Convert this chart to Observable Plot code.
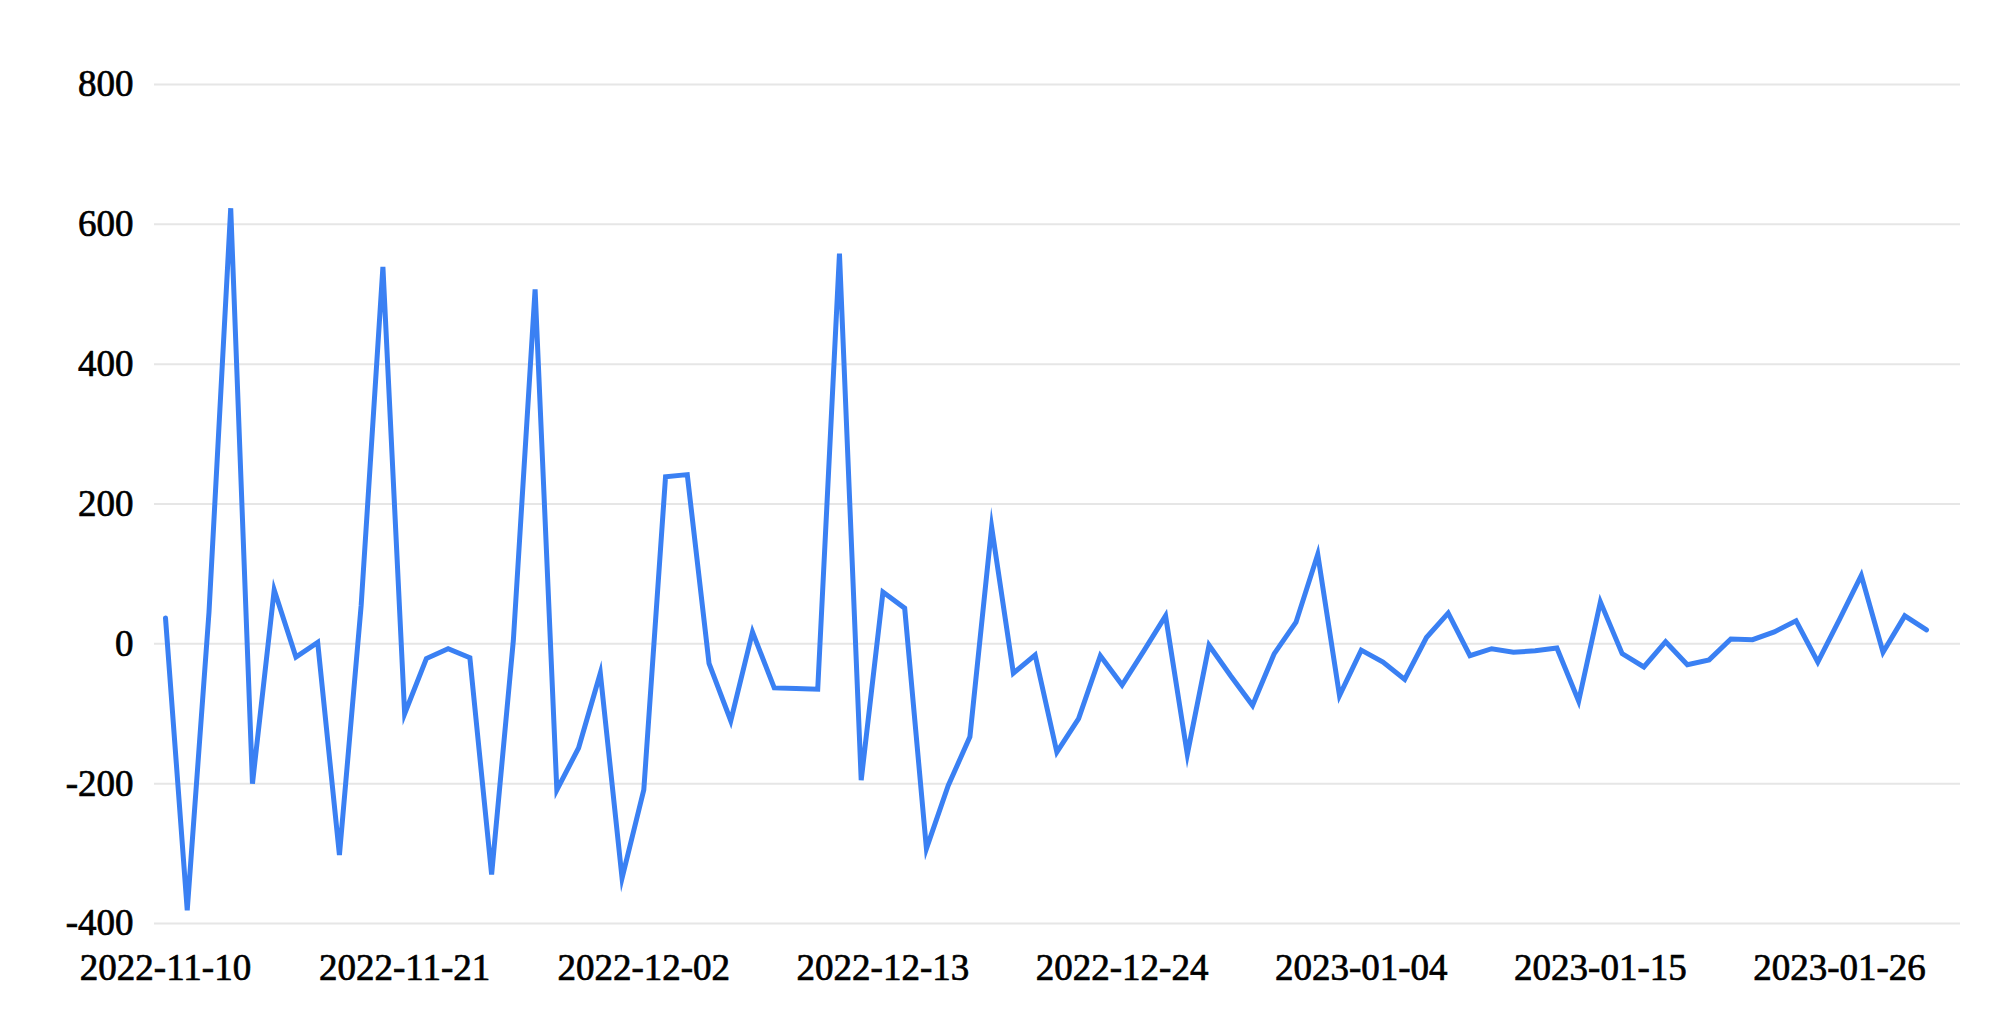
<!DOCTYPE html>
<html>
<head>
<meta charset="utf-8">
<script src="https://cdn.jsdelivr.net/npm/d3@7"></script>
<script src="https://cdn.jsdelivr.net/npm/@observablehq/plot@0.6"></script>
<style>
  html, body { margin: 0; padding: 0; background: #fff; overflow: hidden; }
  #chart svg { display: block; }
  #chart svg text { stroke: #000; stroke-width: 0.7px; }
</style>
</head>
<body>
<div id="chart"></div>
<script>
const dates = [
  "2022-11-10","2022-11-11","2022-11-12","2022-11-13","2022-11-14","2022-11-15","2022-11-16","2022-11-17","2022-11-18","2022-11-19",
  "2022-11-20","2022-11-21","2022-11-22","2022-11-23","2022-11-24","2022-11-25","2022-11-26","2022-11-27","2022-11-28","2022-11-29",
  "2022-11-30","2022-12-01","2022-12-02","2022-12-03","2022-12-04","2022-12-05","2022-12-06","2022-12-07","2022-12-08","2022-12-09",
  "2022-12-10","2022-12-11","2022-12-12","2022-12-13","2022-12-14","2022-12-15","2022-12-16","2022-12-17","2022-12-18","2022-12-19",
  "2022-12-20","2022-12-21","2022-12-22","2022-12-23","2022-12-24","2022-12-25","2022-12-26","2022-12-27","2022-12-28","2022-12-29",
  "2022-12-30","2022-12-31","2023-01-01","2023-01-02","2023-01-03","2023-01-04","2023-01-05","2023-01-06","2023-01-07","2023-01-08",
  "2023-01-09","2023-01-10","2023-01-11","2023-01-12","2023-01-13","2023-01-14","2023-01-15","2023-01-16","2023-01-17","2023-01-18",
  "2023-01-19","2023-01-20","2023-01-21","2023-01-22","2023-01-23","2023-01-24","2023-01-25","2023-01-26","2023-01-27","2023-01-28",
  "2023-01-29","2023-01-30"
];
const values = [
  37, -381, 45, 623, -200, 77, -19, 2, -302, 55,
  539, -100, -21, -7, -20, -330, 5, 507, -209, -149,
  -42, -335, -209, 239, 242, -28, -110, 17, -63, -64,
  -65, 558, -195, 74, 51, -293, -203, -133, 167, -42,
  -16, -155, -107, -17, -59, -10, 40, -158, -2, -46,
  -88, -14, 31, 128, -74, -9, -26, -51, 9, 44,
  -17, -7, -12, -10, -6, -82, 60, -14, -33, 3,
  -30, -23, 7, 6, 17, 33, -26, 35, 98, -12,
  40, 20
];
const xTickLabels = ["2022-11-10","2022-11-21","2022-12-02","2022-12-13","2022-12-24","2023-01-04","2023-01-15","2023-01-26"];
const yTicks = [-400, -200, 0, 200, 400, 600, 800];

const parse = d3.utcParse("%Y-%m-%d");
const data = dates.map((d, i) => ({date: parse(d), value: values[i]}));
const xTicks = xTickLabels.map(parse);

const chart = Plot.plot({
  width: 2000,
  height: 1020,
  marginTop: 84,
  marginBottom: 97,
  marginLeft: 154,
  marginRight: 40,
  style: {fontFamily: "'Liberation Serif', 'Times New Roman', serif", fontSize: "37px", color: "#000", background: "#fff"},
  x: {
    type: "utc",
    domain: [parse(dates[0]), parse(dates[dates.length - 1])],
    insetLeft: 11,
    insetRight: 34
  },
  y: {domain: [-400, 800]},
  marks: [
    Plot.ruleY(yTicks, {stroke: "#e6e6e6", strokeWidth: 2}),
    Plot.axisY({ticks: yTicks, tickSize: 0, tickPadding: 21, label: null, tickFormat: d => String(d), fill: "#000"}),
    Plot.axisX({ticks: xTicks, tickSize: 0, tickPadding: 30, label: null, tickFormat: d3.utcFormat("%Y-%m-%d"), fill: "#000"}),
    Plot.line(data, {x: "date", y: "value", stroke: "#3a80f3", strokeWidth: 5, strokeLinejoin: "miter", strokeMiterlimit: 10})
  ]
});
document.getElementById("chart").appendChild(chart);
</script>
</body>
</html>
